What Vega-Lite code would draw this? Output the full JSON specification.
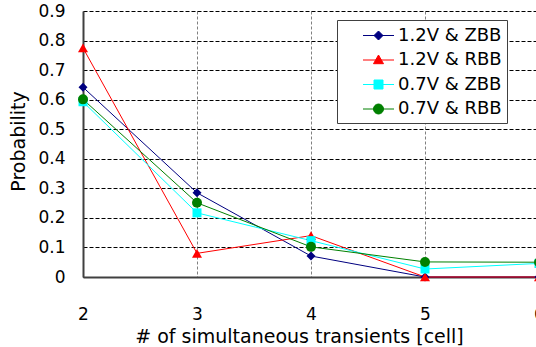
{
  "$schema": "https://vega.github.io/schema/vega-lite/v6.json",
  "width": 453,
  "height": 266,
  "autosize": {"type": "none"},
  "padding": {"left": 83, "top": 11, "right": 0, "bottom": 70},
  "background": "white",
  "config": {
    "view": {"stroke": null},
    "font": "DejaVu Sans",
    "axis": {"labelFont": "DejaVu Sans", "titleFont": "DejaVu Sans", "labelColor": "#000", "titleColor": "#000", "titleFontWeight": "normal"},
    "legend": {"labelFont": "DejaVu Sans"}
  },
  "data": {
    "values": [
      {"n": 2, "p": 0.642, "s": "1.2V & ZBB"},
      {"n": 3, "p": 0.285, "s": "1.2V & ZBB"},
      {"n": 4, "p": 0.071, "s": "1.2V & ZBB"},
      {"n": 5, "p": 0.0, "s": "1.2V & ZBB"},
      {"n": 6, "p": 0.0, "s": "1.2V & ZBB"},
      {"n": 2, "p": 0.775, "s": "1.2V & RBB"},
      {"n": 3, "p": 0.08, "s": "1.2V & RBB"},
      {"n": 4, "p": 0.14, "s": "1.2V & RBB"},
      {"n": 5, "p": 0.0, "s": "1.2V & RBB"},
      {"n": 6, "p": 0.0, "s": "1.2V & RBB"},
      {"n": 2, "p": 0.593, "s": "0.7V & ZBB"},
      {"n": 3, "p": 0.217, "s": "0.7V & ZBB"},
      {"n": 4, "p": 0.123, "s": "0.7V & ZBB"},
      {"n": 5, "p": 0.027, "s": "0.7V & ZBB"},
      {"n": 6, "p": 0.046, "s": "0.7V & ZBB"},
      {"n": 2, "p": 0.601, "s": "0.7V & RBB"},
      {"n": 3, "p": 0.251, "s": "0.7V & RBB"},
      {"n": 4, "p": 0.102, "s": "0.7V & RBB"},
      {"n": 5, "p": 0.051, "s": "0.7V & RBB"},
      {"n": 6, "p": 0.05, "s": "0.7V & RBB"}
    ]
  },
  "encoding": {
    "x": {
      "field": "n", "type": "quantitative",
      "scale": {"domain": [2, 6], "range": [0, 456], "nice": false, "zero": false},
      "axis": {
        "values": [2, 3, 4, 5, 6], "ticks": false, "labelPadding": 29, "labelFontSize": 17,
        "labelFlush": false, "labelOverlap": false,
        "domainColor": "#404040", "domainWidth": 2,
        "grid": true, "gridColor": "#808080", "gridDash": [3, 2], "gridWidth": 1,
        "title": "# of simultaneous transients [cell]", "titleFontSize": 19,
        "titleX": 216, "titleY": 59, "titleBaseline": "middle", "titleAnchor": null
      }
    },
    "y": {
      "field": "p", "type": "quantitative",
      "scale": {"domain": [0, 0.9], "nice": false},
      "axis": {
        "values": [0, 0.1, 0.2, 0.3, 0.4, 0.5, 0.6, 0.7, 0.8, 0.9], "format": ".1~f",
        "ticks": false, "labelPadding": 18, "labelFontSize": 17,
        "domainColor": "#404040", "domainWidth": 2,
        "grid": true, "gridColor": "#000000", "gridDash": [4, 2], "gridWidth": 1,
        "title": "Probability", "titleFontSize": 19,
        "titleX": -65, "titleY": 130, "titleBaseline": "middle", "titleAngle": -90, "titleAlign": "center"
      }
    },
    "color": {
      "field": "s", "type": "nominal",
      "scale": {"domain": ["1.2V & ZBB", "1.2V & RBB", "0.7V & ZBB", "0.7V & RBB"], "range": ["#000080", "#FF0000", "#00FFFF", "#008000"]},
      "legend": {
        "title": null, "orient": "none", "legendX": 254, "legendY": 9,
        "padding": 5, "strokeColor": "#404040", "fillColor": "white",
        "labelFontSize": 18, "labelOffset": 35, "rowPadding": 4.5,
        "symbolSize": 400, "symbolStrokeWidth": 1,
        "labelExpr": "datum.label + '\u00a0\u00a0\u00a0\u00a0\u00a0\u00a0'",
        "encode": {
          "symbols": {
            "update": {
              "size": {"value": 400},
              "stroke": {"signal": "scale('color', datum.value)"},
              "fill": {"signal": "scale('color', datum.value)"},
              "strokeWidth": {"value": 1},
              "opacity": {"value": 1},
              "fillOpacity": {"value": 1},
              "strokeOpacity": {"value": 1}
            }
          }
        }
      }
    }
  },
  "layer": [
    {
      "mark": {"type": "line", "strokeWidth": 1},
      "encoding": {"detail": {"field": "s"}}
    },
    {
      "mark": {"type": "point", "filled": true, "opacity": 0, "size": 400},
      "encoding": {
        "shape": {
          "field": "s", "type": "nominal",
          "scale": {"domain": ["1.2V & ZBB", "1.2V & RBB", "0.7V & ZBB", "0.7V & RBB"], "range": [
            "M1.05,0H4.15M2.6,-0.45L3.05,0L2.6,0.45L2.15,0Z",
            "M1.05,0H4.15M2.6,-0.5L3.1,0.37L2.1,0.37Z",
            "M1.05,0H4.15M2.15,-0.45H3.05V0.45H2.15Z",
            "M1.05,0H4.15M3.1,0A0.5,0.5 0 1,1 2.1,0A0.5,0.5 0 1,1 3.1,0Z"
          ]}
        }
      }
    },
    {
      "transform": [{"filter": "datum.s === '1.2V & ZBB'"}],
      "mark": {"type": "point", "filled": true, "opacity": 1, "size": 81, "shape": "diamond"}
    },
    {
      "transform": [{"filter": "datum.s === '1.2V & RBB'"}],
      "mark": {"type": "point", "filled": true, "opacity": 1, "size": 100, "shape": "triangle-up"}
    },
    {
      "transform": [{"filter": "datum.s === '0.7V & ZBB'"}],
      "mark": {"type": "point", "filled": true, "opacity": 1, "size": 81, "shape": "square"}
    },
    {
      "transform": [{"filter": "datum.s === '0.7V & RBB'"}],
      "mark": {"type": "point", "filled": true, "opacity": 1, "size": 100, "shape": "circle"}
    }
  ]
}
